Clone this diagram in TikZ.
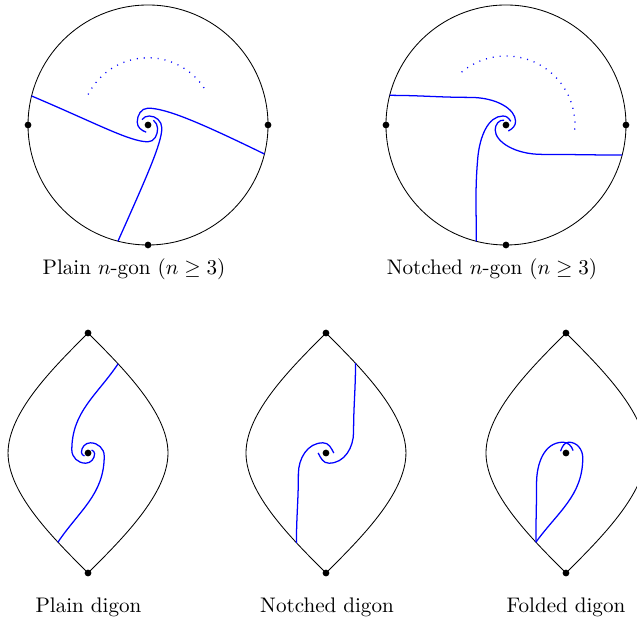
\documentclass[tikz,border=0pt]{standalone}
\usetikzlibrary{positioning}
\tikzset{
  bdry/.style={draw=black},
  curv/.style={draw=blue, semithick},
  dotarc/.style={draw=blue, semithick, dash pattern=on 0.5pt off 2.8pt},
  pt/.style={circle, fill=black, inner sep=0pt, minimum size=3.2pt},
  lbl/.style={anchor=base, inner sep=0pt}
}
\begin{document}
\begin{tikzpicture}
  \useasboundingbox (0,0) rectangle (10.617,-10.417);

  % plain n-gon
  \begin{scope}[shift={(2.467,-2.083)}]
    \draw[bdry] (0,0) circle (2);
    \draw[dotarc] (153:1.12) arc (153:31:1.12);
    \draw[curv] (166:2) .. controls +(-23:1.2) and +(180:0.3) .. (0,-0.28)
      to[out=0,in=-90] (0.16,-0.06) to[out=90,in=-45] (0.09,0.08);
    \draw[curv] (-14:2) .. controls +(154:1.2) and +(0:0.3) .. (0,0.28)
      to[out=180,in=90] (-0.18,0.05) to[out=-90,in=160] (-0.03,-0.12);
    \draw[curv] (255.5:2) .. controls +(66:1.2) and +(-90:0.25) .. (0.23,-0.05)
      to[out=90,in=0] (0.02,0.15) to[out=180,in=50] (-0.1,0.09);
    \node[pt] (pc0) at (0,0) {};
    \node[pt] (pc1) at (180:2) {};
    \node[pt] (pc2) at (0:2) {};
    \node[pt] (pc3) at (270:2) {};
  \end{scope}

  % notched n-gon
  \begin{scope}[shift={(8.433,-2.083)}]
    \draw[bdry] (0,0) circle (2);
    \draw[dotarc] (130:1.15) arc (130:-7:1.15);
    \draw[curv] (165.7:2) to[out=0,in=180] (-0.6,0.46) .. controls +(0.45,0) and +(0,0.2) .. (0.16,0.06)
      to[out=-90,in=30] (0.04,-0.1);
    \draw[curv] (-14.5:2) to[out=180,in=0] (0.6,-0.49) .. controls +(-0.45,0) and +(0,-0.2) .. (-0.18,-0.08)
      to[out=90,in=170] (-0.03,0.08);
    \draw[curv] (255.7:2) to[out=90,in=-95] (-0.47,-0.55) .. controls +(85:0.35) and +(180:0.25) .. (-0.05,0.15)
      to[out=0,in=120] (0.08,0.06);
    \node[pt] (nc0) at (0,0) {};
    \node[pt] (nc1) at (180:2) {};
    \node[pt] (nc2) at (0:2) {};
    \node[pt] (nc3) at (270:2) {};
  \end{scope}

  % plain digon
  \begin{scope}[shift={(1.467,-7.55)}]
    \draw[bdry] (0,2) .. controls +(-45:0.8) and +(90:0.68) .. (1.333,0) coordinate[pos=0.28] (qa)
      .. controls +(-90:0.68) and +(45:0.8) .. (0,-2)
      .. controls +(135:0.8) and +(-90:0.68) .. (-1.333,0) coordinate[pos=0.28] (pa)
      .. controls +(90:0.68) and +(-135:0.8) .. (0,2);
    \draw[curv] (qa) to[out=-124,in=90] (-0.27,0.05) to[out=-90,in=180] (-0.04,-0.17) to[out=0,in=-90] (0.11,-0.01) to[out=90,in=-30] (0.06,0.05);
    \draw[curv] (pa) to[out=56,in=-90] (0.27,-0.05) to[out=90,in=0] (0.04,0.17) to[out=180,in=90] (-0.11,0.01) to[out=-90,in=150] (-0.06,-0.05);
    \node[pt] (da0) at (0,0) {};
    \node[pt] (da1) at (0,2) {};
    \node[pt] (da2) at (0,-2) {};
  \end{scope}

  % notched digon
  \begin{scope}[shift={(5.433,-7.55)}]
    \draw[bdry] (0,2) .. controls +(-45:0.8) and +(90:0.68) .. (1.333,0) coordinate[pos=0.275] (qb)
      .. controls +(-90:0.68) and +(45:0.8) .. (0,-2)
      .. controls +(135:0.8) and +(-90:0.68) .. (-1.333,0) coordinate[pos=0.275] (pb)
      .. controls +(90:0.68) and +(-135:0.8) .. (0,2);
    \draw[curv] (qb) to[out=-90,in=90] (0.46,0.35) to[out=-90,in=0] (0.05,-0.17) to[out=180,in=-63] (-0.13,0);
    \draw[curv] (pb) to[out=90,in=-90] (-0.46,-0.35) to[out=90,in=180] (-0.05,0.17) to[out=0,in=117] (0.13,0);
    \node[pt] (db0) at (0,0) {};
    \node[pt] (db1) at (0,2) {};
    \node[pt] (db2) at (0,-2) {};
  \end{scope}

  % folded digon
  \begin{scope}[shift={(9.433,-7.55)}]
    \draw[bdry] (0,2) .. controls +(-45:0.8) and +(90:0.68) .. (1.333,0)
      .. controls +(-90:0.68) and +(45:0.8) .. (0,-2)
      .. controls +(135:0.8) and +(-90:0.68) .. (-1.333,0) coordinate[pos=0.28] (pc)
      .. controls +(90:0.68) and +(-135:0.8) .. (0,2);
    \draw[curv] (pc) to[out=90,in=-90] (-0.49,-0.5) to[out=90,in=180] (-0.05,0.18) to[out=0,in=110] (0.12,0.04);
    \draw[curv] (pc) to[out=54,in=-90] (0.28,-0.08) to[out=90,in=0] (0.05,0.18) to[out=180,in=70] (-0.09,0.03);
    \node[pt] (dc0) at (0,0) {};
    \node[pt] (dc1) at (0,2) {};
    \node[pt] (dc2) at (0,-2) {};
  \end{scope}

  % captions
  \node[lbl] (t1) at (2.233,-4.572) {Plain $n$-gon ($n \geq 3$)};
  \node[lbl] (t2) at (8.2,-4.572) {Notched $n$-gon ($n \geq 3$)};
  \node[lbl] (t3) at (1.475,-10.21) {Plain digon};
  \node[lbl] (t4) at (5.45,-10.21) {Notched digon};
  \node[lbl] (t5) at (9.433,-10.21) {Folded digon};
\end{tikzpicture}
\end{document}
